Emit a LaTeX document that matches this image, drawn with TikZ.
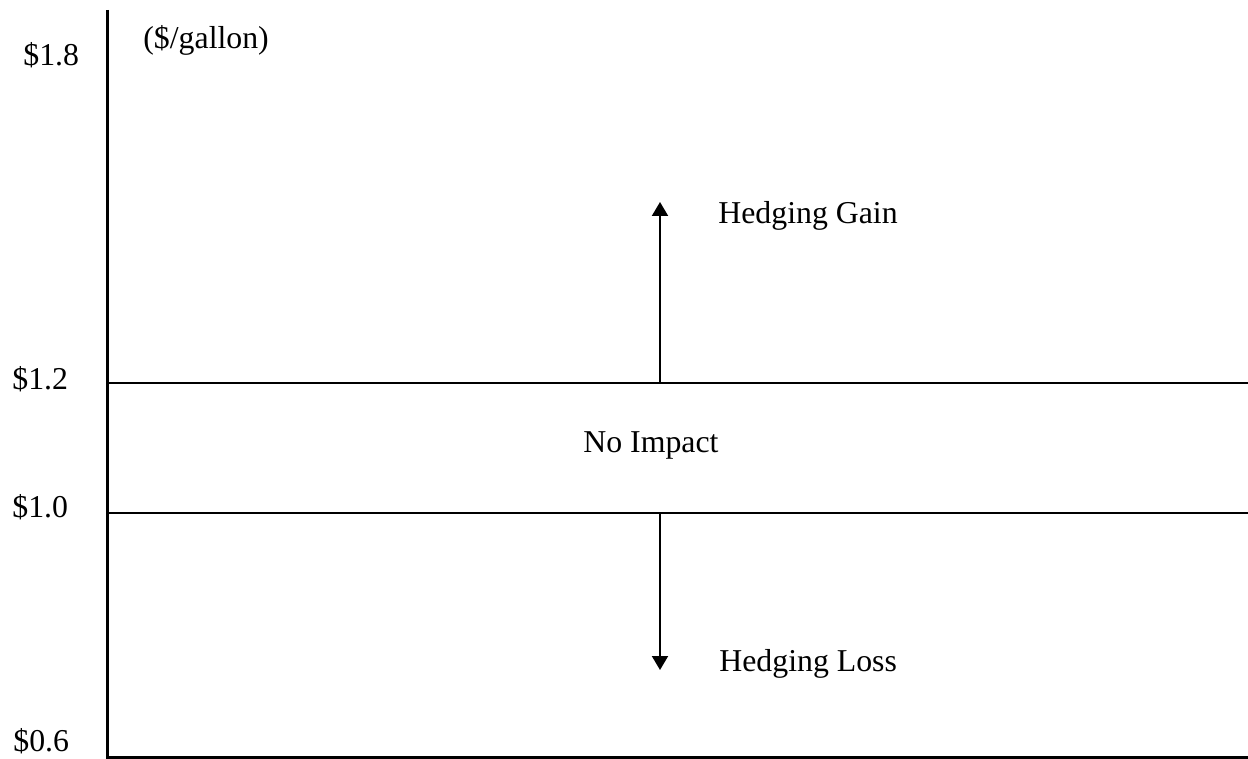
\documentclass[tikz,border=0pt]{standalone}
\usepackage{fontspec}
\setmainfont{Liberation Serif}
\usetikzlibrary{arrows.meta}

\begin{document}
\begin{tikzpicture}[x=0.5pt,y=-0.5pt,>={Triangle[length=7pt,width=8pt]},
	every node/.style={inner sep=0pt,anchor=base west,font=\fontsize{15.9}{19}\selectfont}]
	\useasboundingbox (0,0) rectangle (1248,759);
	\coordinate (top) at (107,10);
	\coordinate (O) at (107,757);
	\coordinate (end) at (1248,757);
	\coordinate (hi) at (107,383);
	\coordinate (hiend) at (1248,383);
	\coordinate (lo) at (107,513);
	\coordinate (loend) at (1248,513);
	\coordinate (gainbase) at (660,383);
	\coordinate (gaintip) at (660,202);
	\coordinate (lossbase) at (660,513);
	\coordinate (losstip) at (660,670);
	\draw[line width=1.5pt] (top)--(O)--(end);
	\draw[line width=1pt] (hi)--(hiend);
	\draw[line width=1pt] (lo)--(loend);
	\draw[->,line width=1pt] (gainbase)--(gaintip);
	\draw[->,line width=1pt] (lossbase)--(losstip);
	\node (p18) at (23,66) {\$1.8};
	\node (p12) at (12,389) {\$1.2};
	\node (p10) at (12,517) {\$1.0};
	\node (p06) at (13,751) {\$0.6};
	\node (unit) at (143,49) {(\$/gallon)};
	\node (gain) at (718,224) {Hedging Gain};
	\node (none) at (583,452) {No Impact};
	\node (loss) at (719,671) {Hedging Loss};
\end{tikzpicture}
\end{document}
